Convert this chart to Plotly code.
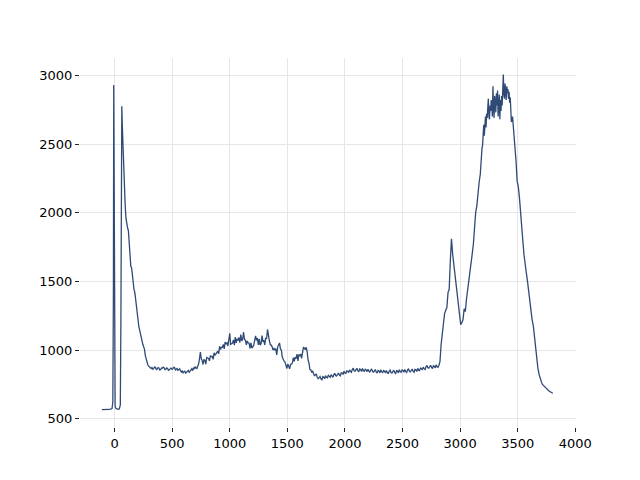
import plotly.graph_objects as go

# Raman shift (cm-1) and intensity
shift_low = [-110, -95, -80, -65, -50, -35, -22, -15, -10, -7, -3, 1, 5, 12, 22, 32, 42, 50, 55, 59, 63, 67, 72,
             78, 85, 92, 99, 106, 113, 120, 127, 134, 141, 148, 155, 162, 169, 176, 183, 190, 197, 204, 211,
             218, 225, 232, 239, 246, 253, 260, 267, 274, 281, 288, 295, 302]
intensity_low = [566, 568, 566, 567, 569, 570, 574, 620, 1400, 2930, 1500, 700, 590, 575, 571, 569, 573, 600,
                 1200, 2400, 2775, 2640, 2500, 2370, 2170, 2060, 1960, 1900, 1890, 1870, 1760, 1640, 1610,
                 1600, 1530, 1480, 1440, 1420, 1360, 1300, 1250, 1195, 1170, 1145, 1110, 1080, 1065, 1040,
                 1025, 1005, 960, 935, 916, 895, 885, 878]

shift_base = [310, 318, 325, 333, 340, 348, 355, 363, 370, 378, 385, 393, 400, 408, 415, 423, 430, 438, 445, 453,
              460, 468, 475, 483, 490, 498, 505, 513, 520, 528, 535, 543, 550, 558, 565, 573, 580, 588, 595, 603,
              610, 618, 625, 633, 640, 648, 655, 663, 670, 678, 685, 693, 700, 708, 715, 723, 730, 738, 745, 753]
intensity_base = [878, 866, 872, 860, 866, 878, 874, 858, 862, 872, 870, 854, 858, 870, 868, 876, 872, 858, 860,
                  870, 866, 852, 856, 868, 870, 860, 862, 874, 874, 856, 858, 866, 852, 862, 864, 850, 840,
                  848, 834, 842, 846, 832, 838, 850, 852, 838, 846, 858, 864, 850, 872, 862, 880, 870, 866,
                  884, 900, 940, 985, 935]

shift_band = [760, 768, 776, 784, 792, 800, 808, 816, 824, 832, 840, 848, 856, 864, 872, 880, 888, 896, 904, 912,
              920, 928, 936, 944, 952, 960, 968, 976, 984, 992, 1000, 1008, 1016, 1024, 1032, 1040, 1048, 1056,
              1064, 1072, 1080, 1088, 1096, 1104, 1112, 1120, 1128, 1136, 1144, 1152, 1160, 1168, 1176, 1184,
              1192, 1200, 1208, 1216, 1224, 1232, 1240, 1248, 1256, 1264, 1272, 1280, 1288, 1296, 1304, 1312,
              1320, 1328, 1336, 1344, 1352, 1360, 1368, 1376, 1384, 1392, 1400, 1408, 1416, 1424, 1432, 1440,
              1448, 1456, 1464, 1472, 1480, 1488, 1496, 1504, 1512, 1520, 1528, 1536, 1544, 1552, 1560, 1568,
              1576, 1584, 1592, 1600, 1608, 1616, 1624, 1632, 1640, 1648, 1656, 1664, 1672, 1680, 1688, 1696]
intensity_band = [926, 895, 930, 926, 898, 946, 941, 939, 922, 959, 952, 954, 932, 980, 962, 973, 982, 993, 972,
                  1028, 1004, 1020, 1020, 1041, 1008, 1058, 1046, 1052, 1030, 1079, 1122, 1042, 1049, 1050, 1074,
                  1036, 1094, 1053, 1082, 1070, 1091, 1055, 1112, 1066, 1081, 1130, 1076, 1072, 1038, 1066,
                  1052, 1050, 1012, 1053, 1014, 1023, 1034, 1068, 1104, 1070, 1088, 1038, 1082, 1036, 1046,
                  1106, 1066, 1069, 1038, 1089, 1082, 1150, 1084, 1068, 1039, 1036, 1024, 1000, 1012, 1002,
                  1011, 965, 1022, 1036, 1052, 1008, 1001, 949, 930, 919, 912, 876, 866, 898, 882, 864, 896,
                  898, 907, 945, 918, 948, 937, 971, 921, 968, 956, 972, 940, 994, 1022, 1014, 1002, 1020, 989,
                  928, 904, 858]

shift_flat = [1704, 1712, 1720, 1728, 1736, 1744, 1752, 1760, 1768, 1776, 1784, 1792, 1800, 1808, 1816, 1824,
              1832, 1840, 1848, 1856, 1864, 1872, 1880, 1888, 1896, 1904, 1912, 1920, 1928, 1936, 1944, 1952,
              1960, 1968, 1976, 1984, 1992, 2000, 2008, 2016, 2024, 2032, 2040, 2048, 2056, 2064, 2072, 2080,
              2088, 2096, 2104, 2112, 2120, 2128, 2136, 2144, 2152, 2160, 2168, 2176, 2184, 2192, 2200, 2208,
              2216, 2224, 2232, 2240, 2248, 2256, 2264, 2272, 2280, 2288, 2296, 2304, 2312, 2320, 2328, 2336,
              2344, 2352, 2360, 2368, 2376, 2384, 2392, 2400, 2408, 2416, 2424, 2432, 2440, 2448, 2456, 2464,
              2472, 2480, 2488, 2496, 2504, 2512, 2520, 2528, 2536, 2544, 2552, 2560, 2568, 2576, 2584, 2592,
              2600, 2608, 2616, 2624, 2632, 2640, 2648, 2656, 2664, 2672, 2680, 2688, 2696, 2704, 2712, 2720,
              2728, 2736, 2744, 2752, 2760, 2768, 2776, 2784, 2792, 2800, 2808, 2816]
intensity_flat = [856, 837, 848, 827, 811, 822, 824, 800, 791, 799, 807, 791, 784, 806, 803, 791, 814, 802, 798,
                  816, 812, 802, 821, 810, 802, 822, 831, 813, 811, 823, 833, 818, 812, 835, 833, 822, 846, 834,
                  831, 849, 846, 836, 856, 845, 838, 858, 868, 850, 847, 858, 867, 850, 842, 862, 858, 844, 866,
                  851, 846, 861, 856, 843, 861, 847, 838, 855, 863, 843, 839, 849, 858, 840, 832, 852, 848, 834,
                  856, 841, 836, 851, 846, 833, 851, 837, 828, 846, 854, 836, 832, 844, 853, 836, 829, 850, 847,
                  834, 857, 843, 839, 855, 851, 839, 858, 845, 837, 855, 864, 845, 841, 853, 862, 845, 838, 859,
                  856, 844, 867, 854, 851, 869, 866, 856, 876, 865, 858, 878, 888, 871, 868, 880, 889, 873, 865,
                  886, 883, 870, 892, 878, 874, 890]

shift_ch = [2825, 2835, 2845, 2855, 2865, 2875, 2885, 2895, 2905, 2915, 2925, 2935, 2945, 2955, 2965, 2975,
            2985, 2995, 3005, 3015, 3025, 3035, 3045, 3055, 3065, 3075, 3085, 3095, 3105, 3115, 3125, 3135,
            3145, 3155, 3165, 3175, 3185, 3190, 3195, 3200, 3205, 3210, 3215, 3220, 3225, 3230, 3235, 3240,
            3245, 3250, 3255, 3260, 3265, 3270, 3275, 3280, 3285, 3290, 3295, 3300, 3305, 3310, 3315, 3320,
            3325, 3330, 3335, 3340, 3345, 3350, 3355, 3360, 3365, 3370, 3375, 3380, 3385, 3390, 3395, 3400,
            3405, 3410, 3415, 3420, 3425, 3430, 3435, 3440, 3445, 3455,
            3465, 3475, 3485, 3495, 3505, 3515, 3525, 3535, 3545, 3555, 3565, 3575, 3585, 3595, 3605, 3615,
            3625, 3635, 3645, 3655, 3665, 3675, 3685, 3695, 3705, 3715, 3725, 3735, 3745, 3755, 3765, 3775,
            3785, 3795, 3805]
intensity_ch = [915, 1040, 1130, 1200, 1265, 1290, 1310, 1420, 1440, 1650, 1810, 1700, 1620, 1560, 1480, 1400,
                1320, 1240, 1185, 1200, 1220, 1300, 1280, 1370, 1430, 1500, 1570, 1600, 1700, 1770, 1920,
                2000, 2050, 2160, 2220, 2280, 2440, 2470, 2490, 2600, 2640, 2560, 2680, 2700, 2620, 2720, 2690,
                2760, 2830, 2700, 2680, 2780, 2740, 2820, 2790, 2700, 2920, 2760, 2690, 2850, 2800, 2730,
                2870, 2780, 2890, 2700, 2760, 2860, 2680, 2820, 2740, 2850, 2780, 2900, 3005, 2860, 2830,
                2940, 2900, 2820, 2920, 2870, 2900, 2830, 2880, 2800, 2840, 2700, 2660, 2700,
                2600, 2520, 2380, 2230, 2190, 2110, 1980, 1840, 1790, 1690, 1640, 1560,
                1500, 1420, 1350, 1300, 1220, 1180, 1100, 1000, 940, 870, 825, 790, 770, 750, 740, 730, 722,
                712, 708, 700, 696, 690, 686]

x_ticks = [0, 500, 1000, 1500, 2000, 2500, 3000, 3500, 4000]
y_ticks = [500, 1000, 1500, 2000, 2500, 3000]

shift = shift_low + shift_base + shift_band + shift_flat + shift_ch
intensity = intensity_low + intensity_base + intensity_band + intensity_flat + intensity_ch

fig = go.Figure()
fig.add_trace(go.Scatter(x=shift, y=intensity, mode="lines",
                         line=dict(color="#2f4b75", width=1.3), showlegend=False))

axis_common = dict(showline=False, zeroline=False, showgrid=True, gridcolor="#e6e6e6", gridwidth=1,
                   ticks="outside", ticklen=4, tickwidth=1, tickcolor="#222222",
                   tickfont=dict(family="DejaVu Sans", size=13, color="#000000"))

# the page body adds an 8px offset, so margins are reduced on the left/top to compensate
fig.update_layout(
    width=640, height=480,
    margin=dict(l=72, r=72, t=50, b=61, pad=0),
    plot_bgcolor="white", paper_bgcolor="white",
    xaxis=dict(range=[-300, 4006], tickvals=x_ticks, ticktext=[str(v) for v in x_ticks], **axis_common),
    yaxis=dict(range=[440, 3126], tickvals=y_ticks, ticktext=[str(v) for v in y_ticks], **axis_common),
)

fig.write_html("out.html")
